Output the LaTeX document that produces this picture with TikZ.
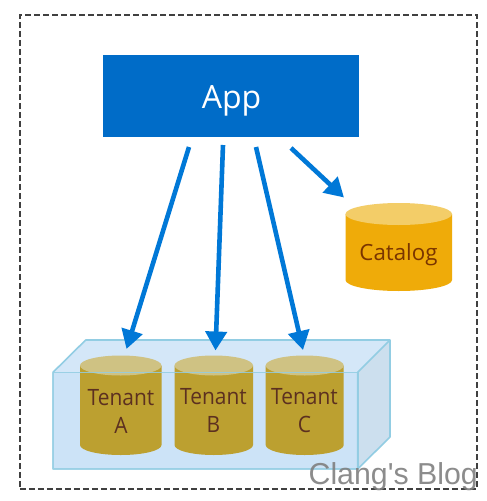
\documentclass[tikz,border=0pt]{standalone}
\usepackage{fontspec}
\setmainfont{Open Sans}
\newfontfamily\wmfont{Liberation Sans}
\newfontfamily\tenantfont[FakeStretch=0.93]{Open Sans}
\usetikzlibrary{arrows.meta}
\definecolor{appblue}{HTML}{006CC8}
\definecolor{arrowblue}{HTML}{0078D7}
\definecolor{dashgray}{HTML}{404040}
\definecolor{boxline}{HTML}{92CDE3}
\definecolor{boxfront}{HTML}{CCE3F7}
\definecolor{boxtop}{HTML}{D4E7F8}
\definecolor{boxside}{HTML}{CCDFEE}
\definecolor{tbody}{HTML}{BCA030}
\definecolor{ttop}{HTML}{CFC283}
\definecolor{ttext}{HTML}{5C3020}
\definecolor{cbody}{HTML}{EFAB09}
\definecolor{ctop}{HTML}{F3CD68}
\definecolor{ctext}{HTML}{7A3500}
\tikzset{
  flow/.style={draw=arrowblue,line width=4.6pt,-{Triangle[length=19pt,width=21pt]},shorten >=0pt},
  boxface/.style={draw=boxline,line width=1.6pt,line join=round},
  tlabel/.style={text=ttext,font=\tenantfont\fontsize{22.5}{28}\selectfont,align=center,inner sep=0pt},
}
% #1 left, #2 right, #3 ellipse centre y, #4 ry, #5 side bottom y, #6 body, #7 top
\newcommand{\drum}[7]{%
  \fill[#6] (#1,#3) -- (#1,#5) arc[start angle=180,end angle=0,x radius={(#2-#1)/2},y radius=#4] -- (#2,#3) -- cycle;
  \fill[#7] ({(#1+#2)/2},#3) ellipse[x radius={(#2-#1)/2},y radius=#4];
}
\begin{document}
\begin{tikzpicture}[x=1pt,y=-1pt]
\useasboundingbox (0,0) rectangle (487,501);
\fill[white] (0,0) rectangle (487,501);
\node[draw=dashgray,line width=1.7pt,dash pattern=on 6pt off 3pt,minimum width=457pt,minimum height=474pt,inner sep=0pt,anchor=north west] (frame) at (19,14) {};
% box faces
\fill[boxtop] (53,372.3) -- (85.7,340) -- (390,340) -- (357.7,372.3) -- cycle;
\fill[boxside] (357.7,372.3) -- (390,340) -- (390,437) -- (357.7,469) -- cycle;
\fill[boxfront] (53,372.3) rectangle (357.7,469);
\draw[boxface] (53,372.3) -- (85.7,340) -- (390,340) -- (390,437) -- (357.7,469) -- (357.7,372.3) -- (390,340);
% tenant cylinders
\drum{80}{161.5}{365.5}{10}{445}{tbody}{ttop}
\drum{174.5}{253}{365.5}{10}{445}{tbody}{ttop}
\drum{265.7}{343.7}{365.5}{10}{445}{tbody}{ttop}
\draw[boxface,draw opacity=.85] (53,372.3) rectangle (357.7,469);
\node[tlabel] (ta) at (121,411.5) {Tenant\\A};
\node[tlabel] (tb) at (213.5,410.5) {Tenant\\B};
\node[tlabel] (tc) at (304.5,410.5) {Tenant\\C};
% catalog
\drum{345.5}{452}{214}{11}{280}{cbody}{ctop}
\node[text=ctext,font=\fontsize{22.3}{28}\selectfont,inner sep=0pt] (cat) at (398.5,255) {Catalog};
% app
\node[fill=appblue,minimum width=256pt,minimum height=82pt,inner sep=0pt,anchor=north west,text=white] (app) at (103,55) {};
\node[text=white,font=\fontsize{32}{36}\selectfont,inner sep=0pt] (applabel) at (231.5,100.5) {App};
% connectors
\coordinate (sa) at (189,147); \coordinate (ea) at (126.5,349);
\coordinate (sb) at (223,145); \coordinate (eb) at (215.5,350.5);
\coordinate (sc) at (256,147); \coordinate (ec) at (303,350);
\coordinate (sd) at (291,148); \coordinate (ed) at (344,197.5);
\draw[flow] (sa) -- (ea);
\draw[flow] (sb) -- (eb);
\draw[flow] (sc) -- (ec);
\draw[flow] (sd) -- (ed);
% watermark
\node[text=gray,text opacity=.9,font=\wmfont\fontsize{30.3}{34}\selectfont,inner sep=0pt,anchor=base east] (wm) at (478,484.5) {Clang's Blog};
\end{tikzpicture}
\end{document}
